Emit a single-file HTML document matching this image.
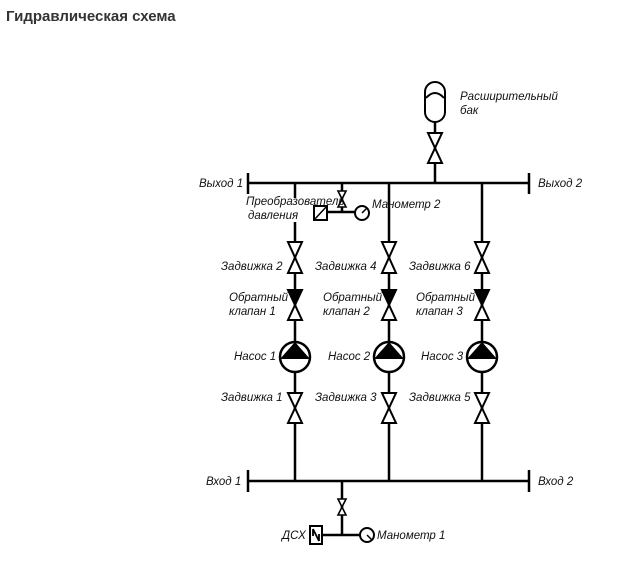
<!DOCTYPE html>
<html><head><meta charset="utf-8"><style>
body{margin:0;background:#fff;width:639px;height:585px;overflow:hidden}
h1{position:absolute;left:6px;top:8px;margin:0;font:bold 15px "Liberation Sans",sans-serif;color:#333}
svg{position:absolute;left:0;top:0}
text{font-family:"Liberation Sans",sans-serif;font-style:italic;font-size:11.5px;fill:#111}
</style></head><body>
<h1>Гидравлическая схема</h1>
<svg width="639" height="585" viewBox="0 0 639 585">
<g stroke="#000" stroke-width="2.5" fill="none">
<line x1="248" y1="183" x2="529" y2="183"/>
<line x1="248" y1="173" x2="248" y2="194"/>
<line x1="529" y1="173" x2="529" y2="194"/>
<line x1="248" y1="481" x2="529" y2="481"/>
<line x1="248" y1="470" x2="248" y2="492"/>
<line x1="529" y1="470" x2="529" y2="492"/>
<line x1="435" y1="120" x2="435" y2="183"/>
<line x1="295" y1="183" x2="295" y2="198"/>
<line x1="295" y1="222" x2="295" y2="481"/>
<line x1="389" y1="183" x2="389" y2="481"/>
<line x1="482" y1="183" x2="482" y2="481"/>
<line x1="342" y1="183" x2="342" y2="212"/>
<line x1="327" y1="212" x2="355" y2="212"/>
<line x1="342" y1="481" x2="342" y2="535"/>
<line x1="322" y1="535" x2="360" y2="535"/>
</g>
<rect x="425" y="82" width="20" height="40" rx="10" fill="#fff" stroke="#000" stroke-width="2"/>
<path d="M426,98 Q435,88 444,98" fill="none" stroke="#000" stroke-width="2"/>
<path d="M428,133 L442,133 L428,163 L442,163 Z" fill="#fff" stroke="#000" stroke-width="2"/>
<path d="M338,191 L346,191 L338,207 L346,207 Z" fill="#fff" stroke="#000" stroke-width="1.6"/>
<path d="M338,499 L346,499 L338,515 L346,515 Z" fill="#fff" stroke="#000" stroke-width="1.6"/>
<rect x="314" y="206" width="13" height="14" fill="#fff" stroke="#000" stroke-width="2"/>
<line x1="314" y1="220" x2="327" y2="206" stroke="#000" stroke-width="1.5"/>
<circle cx="362" cy="213" r="7" fill="#fff" stroke="#000" stroke-width="2"/>
<line x1="362" y1="213" x2="367" y2="208" stroke="#000" stroke-width="1.5"/>
<rect x="310" y="526" width="12" height="18" fill="#fff" stroke="#000" stroke-width="2"/>
<path d="M313,529 L319,541 M313,529 L313,536 M319,534 L319,541" stroke="#000" stroke-width="1.8"/>
<circle cx="367" cy="535" r="7" fill="#fff" stroke="#000" stroke-width="2"/>
<line x1="367" y1="535" x2="372" y2="540" stroke="#000" stroke-width="1.5"/>
<g id="col">
<path d="M288,242 L302,242 L288,273 L302,273 Z" fill="#fff" stroke="#000" stroke-width="2"/>
<path d="M288,290 L302,290 L295,305 Z" fill="#000" stroke="#000" stroke-width="2"/>
<path d="M295,305 L288,320 L302,320 Z" fill="#fff" stroke="#000" stroke-width="2"/>
<circle cx="295" cy="357" r="15" fill="#fff" stroke="#000" stroke-width="2.5"/>
<path d="M280,359 L295,342 L310,359 Z" fill="#000"/>
<path d="M288,393 L302,393 L288,423 L302,423 Z" fill="#fff" stroke="#000" stroke-width="2"/>
</g>
<use href="#col" x="94"/>
<use href="#col" x="187"/>
<text x="460" y="100">Расширительный</text>
<text x="460" y="114">бак</text>
<text x="199" y="187">Выход 1</text>
<text x="538" y="187">Выход 2</text>
<text x="246" y="205">Преобразователь</text>
<text x="248" y="219">давления</text>
<text x="372" y="208">Манометр 2</text>
<text x="221" y="270">Задвижка 2</text>
<text x="315" y="270">Задвижка 4</text>
<text x="409" y="270">Задвижка 6</text>
<text x="229" y="301">Обратный</text>
<text x="323" y="301">Обратный</text>
<text x="416" y="301">Обратный</text>
<text x="229" y="315">клапан  1</text>
<text x="323" y="315">клапан  2</text>
<text x="416" y="315">клапан  3</text>
<text x="234" y="360">Насос 1</text>
<text x="328" y="360">Насос 2</text>
<text x="421" y="360">Насос 3</text>
<text x="221" y="401">Задвижка 1</text>
<text x="315" y="401">Задвижка 3</text>
<text x="409" y="401">Задвижка 5</text>
<text x="206" y="485">Вход 1</text>
<text x="538" y="485">Вход 2</text>
<text x="282" y="539">ДСХ</text>
<text x="377" y="539">Манометр 1</text>
</svg>
</body></html>
